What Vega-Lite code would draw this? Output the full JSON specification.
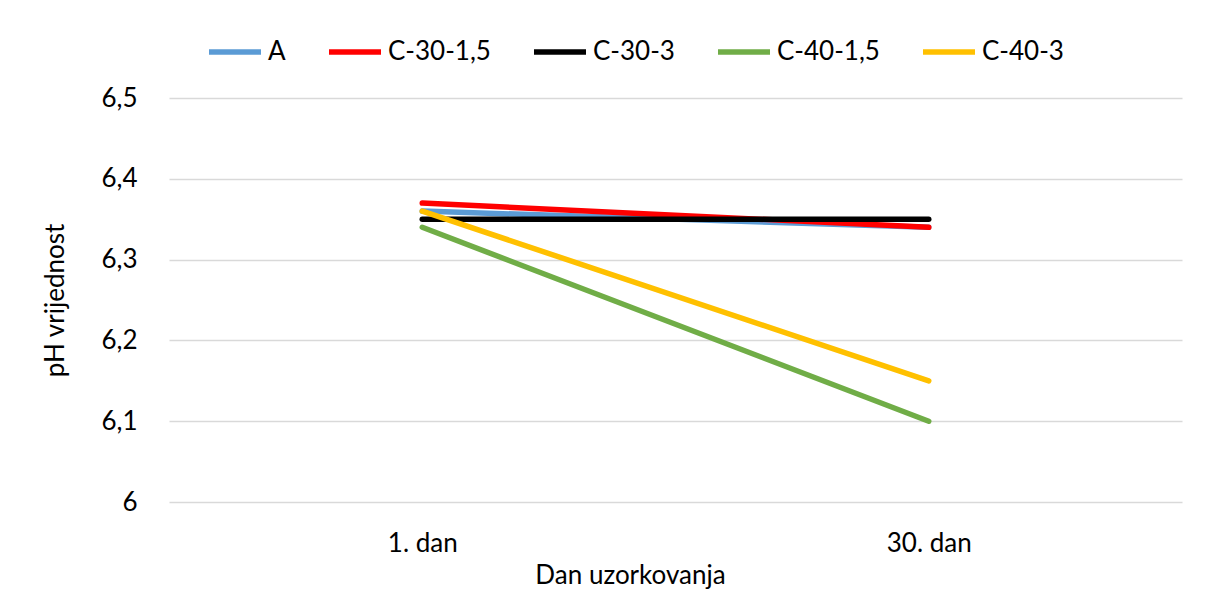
{
  "$schema": "https://vega.github.io/schema/vega-lite/v6.json",
  "width": 1013,
  "height": 404,
  "autosize": {"type": "none"},
  "padding": {"left": 169, "top": 98, "right": 26, "bottom": 108},
  "background": "white",
  "config": {
    "font": "Lato",
    "view": {"stroke": null},
    "axis": {"labelFont": "Lato", "titleFont": "Lato", "labelColor": "#000000", "titleColor": "#000000", "titleFontWeight": "normal"}
  },
  "data": {
    "values": [
      {"series": "A", "dan": "1. dan", "ph": 6.36},
      {"series": "A", "dan": "30. dan", "ph": 6.34},
      {"series": "C-30-1,5", "dan": "1. dan", "ph": 6.37},
      {"series": "C-30-1,5", "dan": "30. dan", "ph": 6.34},
      {"series": "C-30-3", "dan": "1. dan", "ph": 6.35},
      {"series": "C-30-3", "dan": "30. dan", "ph": 6.35},
      {"series": "C-40-1,5", "dan": "1. dan", "ph": 6.34},
      {"series": "C-40-1,5", "dan": "30. dan", "ph": 6.10},
      {"series": "C-40-3", "dan": "1. dan", "ph": 6.36},
      {"series": "C-40-3", "dan": "30. dan", "ph": 6.15}
    ]
  },
  "mark": {"type": "line", "strokeWidth": 5.5, "strokeCap": "round"},
  "encoding": {
    "x": {
      "field": "dan", "type": "nominal", "sort": ["1. dan", "30. dan"],
      "scale": {"type": "point", "padding": 0.5},
      "axis": {
        "title": "Dan uzorkovanja", "labelAngle": 0, "labelFontSize": 26, "titleFontSize": 26,
        "ticks": false, "domain": false, "grid": false, "labelPadding": 28,
        "titleX": 461, "titleY": 73, "titleBaseline": "middle", "titleAlign": "center"
      }
    },
    "y": {
      "field": "ph", "type": "quantitative",
      "scale": {"domain": [6, 6.5], "zero": false, "nice": false},
      "axis": {
        "title": "pH vrijednost", "values": [6, 6.1, 6.2, 6.3, 6.4, 6.5],
        "labelExpr": "replace(format(datum.value, '~g'), '.', ',')",
        "labelFontSize": 26, "titleFontSize": 26, "ticks": false, "domain": false,
        "labelPadding": 32, "gridColor": "#d9d9d9", "gridWidth": 1.5,
        "titleX": -114, "titleY": 202, "titleAngle": 270, "titleAlign": "center", "titleBaseline": "middle"
      }
    },
    "color": {
      "field": "series", "type": "nominal",
      "scale": {
        "domain": ["A", "C-30-1,5", "C-30-3", "C-40-1,5", "C-40-3"],
        "range": ["#5B9BD5", "#FF0000", "#000000", "#70AD47", "#FFC000"]
      },
      "legend": {
        "title": null, "orient": "none", "direction": "horizontal",
        "legendX": 37, "legendY": -75,
        "symbolType": "stroke", "symbolStrokeWidth": 5.5, "symbolSize": 2704,
        "labelFontSize": 26, "labelFont": "Lato", "labelColor": "#000000",
        "labelOffset": 4, "columnPadding": 32
      }
    }
  }
}
